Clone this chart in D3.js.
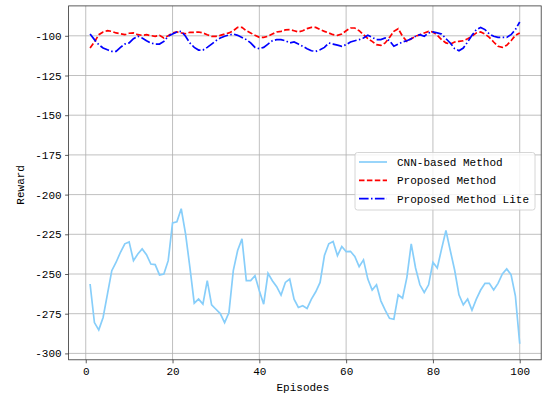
<!DOCTYPE html>
<html>
<head>
<meta charset="utf-8">
<script src="https://cdn.jsdelivr.net/npm/d3@7"></script>
<style>
  body { margin: 0; background: #fff; }
  svg text { font-family: "Liberation Mono", "DejaVu Sans Mono", monospace; fill: #000; }
</style>
</head>
<body>
<svg id="chart" width="545" height="396"></svg>
<script>
// reward per episode
var cnnReward = [
  -256.3, -280.6, -285.2, -277.4, -262.7, -247.9, -242.6, -236.3, -231.0, -229.8,
  -241.6, -237.4, -234.2, -237.8, -243.7, -244.1, -250.6, -250.0, -241.6, -217.9,
  -217.1, -208.9, -224.7, -245.8, -268.4, -265.8, -269.0, -254.2, -269.4, -272.2,
  -274.9, -280.6, -274.3, -247.9, -235.2, -227.9, -254.2, -254.2, -251.1, -260.6,
  -269.0, -249.6, -254.2, -258.0, -263.3, -255.3, -253.2, -265.8, -271.1, -270.0,
  -271.7, -265.8, -261.2, -255.3, -238.4, -231.0, -229.5, -238.4, -232.7, -235.9,
  -235.7, -239.0, -245.4, -241.1, -253.2, -260.1, -256.8, -266.9, -272.8, -277.9,
  -278.5, -263.1, -265.2, -252.1, -231.0, -246.2, -256.8, -261.6, -256.8, -242.6,
  -246.2, -234.2, -222.6, -235.2, -247.5, -263.1, -269.4, -265.8, -272.8, -265.8,
  -260.1, -255.9, -255.9, -260.1, -255.9, -250.0, -246.8, -250.4, -263.7, -293.9
];
var proposedReward = [
  -107.7, -103.9, -99.3, -97.6, -96.8, -97.2, -98.2, -98.7, -99.3, -98.4,
  -98.2, -99.3, -99.7, -99.3, -99.9, -100.3, -99.7, -101.4, -99.9, -98.2,
  -97.6, -98.2, -98.7, -97.8, -97.8, -97.6, -98.2, -99.3, -100.3, -100.3,
  -99.7, -98.9, -98.2, -96.8, -94.7, -94.7, -96.8, -98.2, -99.7, -101.0,
  -101.0, -100.3, -98.9, -97.6, -97.2, -96.3, -96.1, -96.8, -97.6, -96.8,
  -95.5, -94.7, -94.7, -96.1, -97.2, -98.2, -99.3, -99.7, -98.9, -96.8,
  -95.1, -95.1, -96.8, -99.3, -101.8, -103.5, -105.6, -106.0, -104.5, -101.0,
  -97.2, -95.5, -100.3, -103.5, -101.8, -100.3, -99.3, -98.2, -97.2, -97.6,
  -99.7, -102.4, -104.5, -105.2, -103.9, -103.5, -103.1, -101.8, -100.3, -98.2,
  -97.6, -98.9, -101.0, -103.9, -106.6, -107.3, -106.0, -103.1, -99.7, -98.2
];
var liteReward = [
  -98.9, -102.4, -105.6, -107.7, -108.8, -109.8, -109.8, -107.3, -105.2, -104.5,
  -101.8, -100.3, -101.4, -103.1, -104.5, -105.2, -105.2, -103.5, -100.3, -98.9,
  -97.6, -97.2, -100.3, -104.5, -107.3, -109.0, -109.0, -107.3, -105.2, -103.1,
  -101.4, -100.3, -99.5, -98.9, -99.7, -101.0, -102.4, -104.5, -107.3, -108.1,
  -107.3, -105.2, -103.1, -102.4, -102.4, -103.1, -104.5, -103.9, -105.2, -106.6,
  -108.1, -109.4, -109.8, -108.8, -107.3, -104.5, -105.2, -105.9, -106.6, -105.6,
  -103.9, -103.1, -102.4, -101.4, -99.7, -101.0, -102.4, -102.4, -101.4, -103.1,
  -106.6, -105.2, -103.9, -103.1, -101.8, -100.3, -99.3, -100.3, -98.2, -97.6,
  -98.2, -98.9, -101.8, -104.5, -108.1, -109.4, -107.7, -103.9, -99.7, -96.1,
  -94.7, -96.1, -98.9, -100.3, -101.0, -101.0, -101.0, -99.3, -96.1, -91.3
];
var seriesNames = ["CNN-based Method", "Proposed Method", "Proposed Method Lite"];
var xTicks = [0, 20, 40, 60, 80, 100];
var yTicks = [-300, -275, -250, -225, -200, -175, -150, -125, -100];

var svg = d3.select("#chart");
// plot box (note: "top" is reserved on window, so use plot* names)
var plotL = 68.6, plotR = 541.2, plotT = 5.9, plotB = 359.8;

var series = [
  { name: seriesNames[0], values: cnnReward, color: "#87cefa", dash: null },
  { name: seriesNames[1], values: proposedReward, color: "#ff0000", dash: "5.5,2.4" },
  { name: seriesNames[2], values: liteReward, color: "#0000ff", dash: "9.6,2.4,1.5,2.4" }
];

// matplotlib-like 5% margins
var n = cnnReward.length;
var xPad = (n - 1) * 0.05;
var x = d3.scaleLinear().domain([1 - xPad, n + xPad]).range([plotL, plotR]);
var all = cnnReward.concat(proposedReward, liteReward);
var yMin = d3.min(all), yMax = d3.max(all), yPad = (yMax - yMin) * 0.05;
var y = d3.scaleLinear().domain([yMin - yPad, yMax + yPad]).range([plotB, plotT]);

// grid
var grid = svg.append("g");
grid.selectAll(".gx").data(xTicks).enter().append("line")
  .attr("x1", d => x(d)).attr("x2", d => x(d)).attr("y1", plotT).attr("y2", plotB)
  .attr("stroke", "#b0b0b0").attr("stroke-width", 0.8);
grid.selectAll(".gy").data(yTicks).enter().append("line")
  .attr("x1", plotL).attr("x2", plotR).attr("y1", d => y(d)).attr("y2", d => y(d))
  .attr("stroke", "#b0b0b0").attr("stroke-width", 0.8);

// lines
var line = d3.line().x((d, i) => x(i + 1)).y(d => y(d));
series.forEach(function (s) {
  svg.append("path").datum(s.values)
    .attr("d", line)
    .attr("fill", "none")
    .attr("stroke", s.color)
    .attr("stroke-width", 1.7)
    .attr("stroke-dasharray", s.dash);
});

// axes
var fmt = d => String(d);
var xAxis = svg.append("g").attr("transform", "translate(0," + plotB + ")")
  .call(d3.axisBottom(x).tickValues(xTicks).tickFormat(fmt).tickSize(3.5).tickPadding(4));
var yAxis = svg.append("g").attr("transform", "translate(" + plotL + ",0)")
  .call(d3.axisLeft(y).tickValues(yTicks).tickFormat(fmt).tickSize(3.5).tickPadding(3.5));
[xAxis, yAxis].forEach(function (a) {
  a.select(".domain").remove();
  a.selectAll(".tick line").attr("stroke", "#333").attr("stroke-width", 0.8);
  a.selectAll(".tick text").attr("font-size", 11)
    .style("font-family", "'Liberation Mono', 'DejaVu Sans Mono', monospace").attr("fill", "#000");
});

svg.append("rect").attr("x", plotL).attr("y", plotT)
  .attr("width", plotR - plotL).attr("height", plotB - plotT)
  .attr("fill", "none").attr("stroke", "#333").attr("stroke-width", 0.8);

// axis labels
svg.append("text").attr("x", (plotL + plotR) / 2 - 2).attr("y", 391)
  .attr("text-anchor", "middle").attr("font-size", 11).text("Episodes");
svg.append("text").attr("transform", "translate(24," + ((plotT + plotB) / 2 + 2) + ") rotate(-90)")
  .attr("text-anchor", "middle").attr("font-size", 11).text("Reward");

// legend
var lg = svg.append("g").attr("transform", "translate(355,152.5)");
lg.append("rect").attr("width", 180).attr("height", 57.5).attr("rx", 2.5)
  .attr("fill", "#fff").attr("fill-opacity", 0.8)
  .attr("stroke", "#cccccc").attr("stroke-width", 0.8);
series.forEach(function (s, i) {
  var yy = 9.5 + i * 18.3;
  lg.append("line").attr("x1", 4).attr("x2", 32).attr("y1", yy).attr("y2", yy)
    .attr("stroke", s.color).attr("stroke-width", 1.7).attr("stroke-dasharray", s.dash);
  lg.append("text").attr("x", 42).attr("y", yy + 4).attr("font-size", 11).text(s.name);
});
</script>
</body>
</html>
